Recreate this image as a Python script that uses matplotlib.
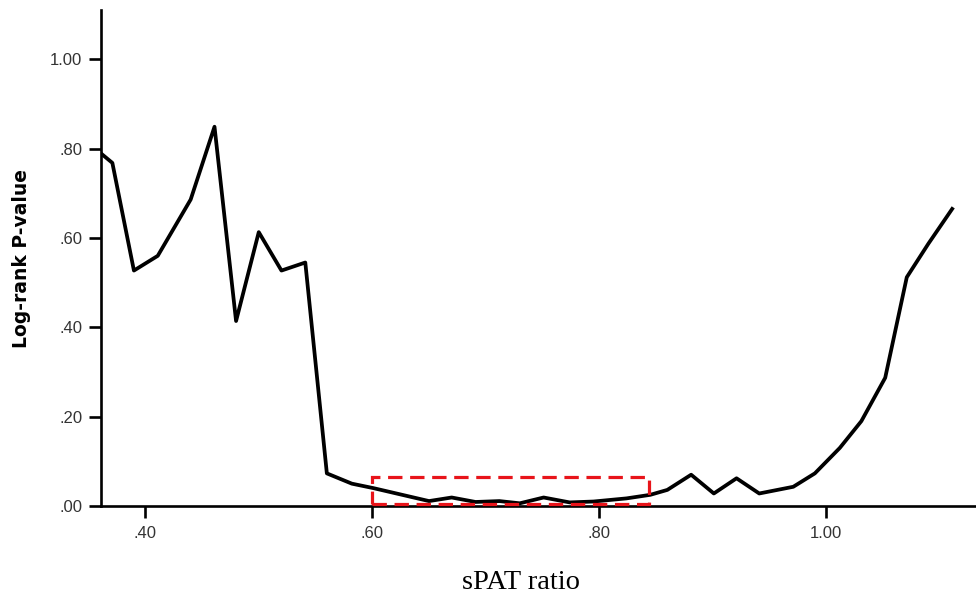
import matplotlib
matplotlib.use("Agg")
import matplotlib.pyplot as plt
from matplotlib.patches import Rectangle

# sPAT ratio cut-offs and the log-rank p-values
spat_ratio = [0.362, 0.371, 0.390, 0.411, 0.440, 0.461, 0.480, 0.500, 0.520,
              0.541, 0.560, 0.582, 0.601, 0.650, 0.670, 0.691, 0.712, 0.730,
              0.751, 0.774, 0.795, 0.824, 0.845, 0.860, 0.881, 0.901, 0.921,
              0.941, 0.971, 0.990, 1.012, 1.031, 1.052, 1.071, 1.090, 1.111]
p_value = [0.787, 0.768, 0.527, 0.560, 0.686, 0.849, 0.414, 0.613, 0.527,
           0.545, 0.073, 0.050, 0.040, 0.011, 0.019, 0.009, 0.011, 0.006,
           0.019, 0.008, 0.010, 0.017, 0.025, 0.036, 0.070, 0.028, 0.062,
           0.028, 0.043, 0.073, 0.130, 0.190, 0.287, 0.512, 0.587, 0.665]

xticks = [0.40, 0.60, 0.80, 1.00]
xtick_labels = [".40", ".60", ".80", "1.00"]
yticks = [0.00, 0.20, 0.40, 0.60, 0.80, 1.00]
ytick_labels = [".00", ".20", ".40", ".60", ".80", "1.00"]

# highlighted cut-off range (red dashed box)
box_x = (0.600, 0.844)
box_y = (0.004, 0.064)

fig = plt.figure(figsize=(9.76, 5.95), dpi=100)
ax = fig.add_axes([0.1035, 0.1496, 0.8965, 0.8334])

ax.plot(spat_ratio, p_value, color="black", linewidth=2.7, zorder=2)

ax.add_patch(Rectangle((box_x[0], box_y[0]), box_x[1] - box_x[0], box_y[1] - box_y[0],
                       fill=False, edgecolor="#e8141a", linewidth=2.3,
                       linestyle=(0, (4.5, 2.4)), zorder=4, clip_on=False))

ax.set_xlim(0.361, 1.132)
ax.set_ylim(0, 1.11)

ax.set_xticks(xticks)
ax.set_xticklabels(xtick_labels)
ax.set_yticks(yticks)
ax.set_yticklabels(ytick_labels)

for side in ["top", "right"]:
    ax.spines[side].set_visible(False)
for side in ["left", "bottom"]:
    ax.spines[side].set_linewidth(1.9)
    ax.spines[side].set_zorder(3)

ax.tick_params(axis="x", direction="out", length=8.5, width=1.9, pad=6,
               labelsize=12, labelcolor="#333333", labelfontfamily="Liberation Sans")
ax.tick_params(axis="y", direction="out", length=8.5, width=1.9, pad=5,
               labelsize=12, labelcolor="#333333", labelfontfamily="Liberation Sans")

ax.set_ylabel("Log-rank P-value", fontsize=13.5, fontweight="bold",
              family="DejaVu Sans", labelpad=14)

fig.text(0.534, 0.010, "sPAT ratio", fontsize=20.5, family="Liberation Serif",
         ha="center", va="baseline")

fig.savefig("out.png", dpi=100)
